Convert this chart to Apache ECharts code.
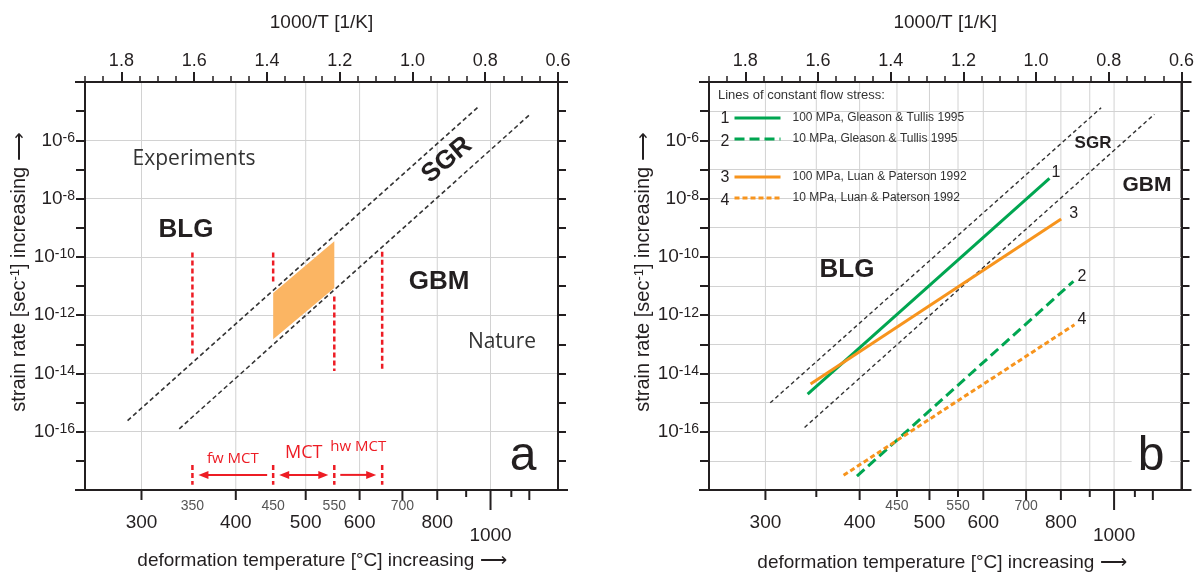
<!DOCTYPE html>
<html>
<head>
<meta charset="utf-8">
<title>Strain rate vs deformation temperature</title>
<script src="https://cdn.jsdelivr.net/npm/echarts@6.0.0/dist/echarts.min.js"></script>
<style>
html,body{margin:0;padding:0;background:#ffffff;}
#chart{width:1197px;height:575px;}
</style>
</head>
<body>
<div id="chart"></div>
<script>
// ===================== data =====================
// top axis: 1000/T [1/K]
const invTTickLabels = [0.6, 0.8, 1.0, 1.2, 1.4, 1.6, 1.8];
// bottom axis: deformation temperature [°C]
const tempTicksA = [300, 400, 500, 600, 700, 800, 900, 1000, 1100, 1200];
const tempTicksB = [300, 350, 400, 450, 500, 550, 600, 700, 800, 900, 1000, 1100, 1200];
const tempLabelsLarge = [300, 400, 500, 600, 800, 1000];
const tempLabelsSmallA = [350, 450, 550, 700];
const tempLabelsSmallB = [450, 550, 700];
const tempGridA = [300, 400, 500, 600, 800, 1000];
const tempGridB = [300, 350, 400, 450, 500, 550, 600, 700, 800, 900, 1000];
// y axis: strain rate [1/s], labelled decades (exponents)
const strainLabelExponents = [-6, -8, -10, -12, -14, -16];

// ---- panel a ----  points are [1000/T, strain rate]
const sgrUpperA = [[1.783, 2.4e-16], [0.8165, 1.5e-5]];
const sgrLowerA = [[1.641, 1.26e-16], [0.674, 8.3e-6]];
const zoneTemps = [450, 550];
const zoneTop = [5.8e-12, 3.4e-10];
const zoneBottom = [1.5e-13, 8.5e-12];
const redLineTemps = [350, 450, 550, 650];
const redLineTop = [1.4e-10, 1.4e-10, 4.4e-12, 1.5e-10];
const redLineBottom = [4.4e-14, 1.3e-11, 1.2e-14, 1.2e-14];
const mctTemps = [350, 450, 550, 650];
const mctLabels = ['fw MCT', 'MCT', 'hw MCT'];
const mctArrowRate = 3.3e-18;
const mctMarkTop = 7.2e-18;
const mctMarkBottom = 1.5e-18;

// ---- panel b ----
const sgrUpperB = [[1.7316, 9.8e-16], [0.8212, 1.3e-5]];
const sgrLowerB = [[1.6371, 1.4e-16], [0.6747, 7.8e-6]];
const gt100 = [[1.6286, 1.95e-15], [0.9632, 4.9e-8]];
const gt10  = [[1.4929, 3.0e-18], [0.8973, 1.45e-11]];
const lp100 = [[1.6206, 4.3e-15], [0.931, 2.0e-9]];
const lp10  = [[1.5297, 3.2e-18], [0.8945, 4.7e-13]];
const flowNames = ['100 MPa, Gleason & Tullis 1995', '10 MPa, Gleason & Tullis 1995',
                   '100 MPa, Luan & Paterson 1992', '10 MPa, Luan & Paterson 1992'];
const flowNumbers = ['1', '2', '3', '4'];

// ===================== styling / helpers =====================
const FONT = '"Liberation Sans", Arial, Helvetica, sans-serif';
const HUM = '"Open Sans", "Noto Sans", sans-serif';
const INK = '#231f20';
const GRID = '#d2d2d2';
const RED = '#ed1c24';
const GREEN = '#00a651';
const ORANGE = '#f7941d';
const FILL = '#fbb563';
const K0 = 273.15;
const X_MIN = 0.6, X_MAX = 1.9;
const Y_MIN = -18, Y_MAX = -4;
const invT = t => 1000 / (t + K0);
const lg = v => Math.log10(v);
const toPts = arr => arr.map(p => [p[0], lg(p[1])]);

function textStyle(text, size, opt) {
  opt = opt || {};
  const al = opt.align || 'center';
  return {
    text: text, fill: opt.fill || INK, fontFamily: opt.family || FONT, fontSize: size,
    fontWeight: opt.weight || 'normal', align: al, textAlign: al,
    verticalAlign: 'middle', textVerticalAlign: 'middle',
    backgroundColor: opt.bg, padding: opt.pad
  };
}
function gtext(x, y, text, size, opt) {
  opt = opt || {};
  return { type: 'text', x: x, y: y, rotation: opt.rot || 0, z: 100, silent: true, style: textStyle(text, size, opt) };
}

function xAxesFor(g) {
  return [
    { gridIndex: g, type: 'value', position: 'top', min: X_MIN, max: X_MAX, inverse: true, interval: 0.2,
      name: '1000/T [1/K]', nameLocation: 'middle', nameGap: 50,
      nameTextStyle: { fontFamily: FONT, fontSize: 19, color: INK },
      axisLine: { show: true, onZero: false, lineStyle: { color: INK, width: 2 } },
      axisTick: { show: true, length: 10, customValues: invTTickLabels, lineStyle: { color: INK, width: 2 } },
      axisLabel: { show: true, margin: 12, customValues: invTTickLabels,
        formatter: v => (Math.abs(v - 1.9) < 1e-6 ? '' : v.toFixed(1)),
        fontFamily: FONT, fontSize: 18, color: INK },
      splitLine: { show: false } },
    { gridIndex: g, type: 'value', position: 'top', min: X_MIN, max: X_MAX, inverse: true, interval: 0.05,
      axisLine: { show: false, onZero: false },
      axisTick: { show: true, length: 6, lineStyle: { color: INK, width: 1.5 } },
      axisLabel: { show: false }, splitLine: { show: false } }
  ];
}
function yAxesFor(g) {
  const base = { gridIndex: g, type: 'value', min: Y_MIN, max: Y_MAX, interval: 1 };
  const axes = [
    Object.assign({}, base, {
      position: 'left',
      name: '{n|strain rate [sec}{s|-1}{n|] increasing ⟶}', nameLocation: 'middle', nameGap: 49,
      nameTextStyle: { padding: [0, 0, 0, 28],
        rich: { n: { fontFamily: FONT, fontSize: 20, color: INK, lineHeight: 22 },
                s: { fontFamily: FONT, fontSize: 13, color: INK, lineHeight: 13, verticalAlign: 'top' } } },
      axisLine: { show: true, onZero: false, lineStyle: { color: INK, width: 2 } },
      axisTick: { show: true, length: 9, lineStyle: { color: INK, width: 2 } },
      axisLabel: { margin: 10,
        formatter: v => (strainLabelExponents.indexOf(Math.round(v)) >= 0 ? '{b|10}{s|' + Math.round(v) + '}' : ''),
        rich: { b: { fontFamily: FONT, fontSize: 19, color: INK, lineHeight: 19, verticalAlign: 'middle' },
                s: { fontFamily: FONT, fontSize: 14, color: INK, lineHeight: 14, verticalAlign: 'top' } } },
      splitLine: { show: g === 1, lineStyle: { color: GRID, width: 1 } }
    }),
    Object.assign({}, base, {
      position: 'right',
      axisLine: { show: true, onZero: false, lineStyle: { color: INK, width: 2 } },
      axisTick: { show: true, length: 8, lineStyle: { color: INK, width: 2 } },
      axisLabel: { show: false }, splitLine: { show: false }
    })
  ];
  if (g === 0) {
    axes.push({ gridIndex: 0, type: 'value', min: Y_MIN, max: Y_MAX, interval: 2, position: 'left',
      axisLine: { show: false }, axisTick: { show: false }, axisLabel: { show: false },
      splitLine: { show: true, lineStyle: { color: GRID, width: 1 } } });
  }
  return axes;
}
const X_IDX = [0, 2];
const Y_IDX = [0, 3];

function gridLineSeries(g, temps) {
  return {
    type: 'custom', name: 'grid' + g, xAxisIndex: X_IDX[g], yAxisIndex: Y_IDX[g], z: 1, silent: true,
    data: temps.map(t => [invT(t), Y_MIN]), encode: { x: 0, y: 1 },
    renderItem: function (params, api) {
      const u = api.value(0);
      const a = api.coord([u, Y_MIN]), b = api.coord([u, Y_MAX]);
      return { type: 'line', shape: { x1: a[0], y1: a[1], x2: b[0], y2: b[1] }, style: { stroke: GRID, lineWidth: 1 } };
    }
  };
}
function bottomAxisSeries(g, ticks, smallLabels) {
  const shortTicks = [350, 450, 550, 900, 1100];
  return {
    type: 'custom', name: 'tempAxis' + g, xAxisIndex: X_IDX[g], yAxisIndex: Y_IDX[g], z: 20, silent: true, clip: false,
    data: ticks.map(t => [invT(t), Y_MIN, t]), encode: { x: 0, y: 1 },
    renderItem: function (params, api) {
      const t = api.value(2);
      const p = api.coord([api.value(0), Y_MIN]);
      const len = t === 1000 ? 20 : (shortTicks.indexOf(t) >= 0 ? 7 : 10);
      const ch = [{ type: 'line', shape: { x1: p[0], y1: p[1], x2: p[0], y2: p[1] + len }, style: { stroke: INK, lineWidth: 2 } }];
      if (params.dataIndex === 0) {
        // axis lines slightly overhanging the frame, as in the figure
        const bl = api.coord([X_MAX, Y_MIN]), br = api.coord([X_MIN, Y_MIN]);
        const tl = api.coord([X_MAX, Y_MAX]), tr = api.coord([X_MIN, Y_MAX]);
        ch.push({ type: 'line', shape: { x1: bl[0] - 10, y1: bl[1], x2: br[0] + 10, y2: br[1] }, style: { stroke: INK, lineWidth: 2 } });
        ch.push({ type: 'line', shape: { x1: tl[0] - 10, y1: tl[1], x2: tr[0] + 10, y2: tr[1] }, style: { stroke: INK, lineWidth: 2 } });
      }
      return { type: 'group', children: ch };
    }
  };
}
function bottomLabelSeries(g, smallLabels) {
  const labels = smallLabels.concat(tempLabelsLarge);
  return {
    type: 'custom', name: 'tempLabels' + g, xAxisIndex: X_IDX[g], yAxisIndex: Y_IDX[g], z: 20, silent: true, clip: false,
    data: labels.map(t => [invT(t), Y_MIN, t]), encode: { x: 0, y: 1 },
    renderItem: function (params, api) {
      const t = api.value(2);
      const p = api.coord([api.value(0), Y_MIN]);
      const small = params.dataIndex < smallLabels.length;
      if (small) return { type: 'text', x: p[0], y: p[1] + 16, style: textStyle(String(t), 14, { fill: '#555' }) };
      return { type: 'text', x: p[0], y: p[1] + (t === 1000 ? 46 : 33), style: textStyle(String(t), 19) };
    }
  };
}
function lineSeries(name, pts, xi, yi, color, width, dash, z, endLbl) {
  const s = {
    type: 'line', name: name, xAxisIndex: xi, yAxisIndex: yi, data: toPts(pts), symbol: 'none',
    silent: true, z: z, animation: false,
    lineStyle: { color: color, width: width, type: dash || 'solid', cap: 'butt' },
    itemStyle: { color: color }
  };
  if (endLbl) {
    s.endLabel = { show: true, formatter: endLbl.text, color: INK, fontFamily: FONT, fontSize: 16,
      distance: 0, offset: endLbl.offset };
  }
  return s;
}
function vSegSeries(name, temps, tops, bottoms, z) {
  return {
    type: 'custom', name: name, xAxisIndex: 0, yAxisIndex: 0, z: z, silent: true,
    data: temps.map((t, i) => [invT(t), lg(tops[i]), lg(bottoms[i])]),
    encode: { x: 0, y: [1, 2] },
    renderItem: function (params, api) {
      const u = api.value(0);
      const a = api.coord([u, api.value(1)]), b = api.coord([u, api.value(2)]);
      return { type: 'line', shape: { x1: a[0], y1: a[1], x2: b[0], y2: b[1] },
        style: { stroke: RED, lineWidth: 2.5, lineDash: [5, 3] } };
    }
  };
}

const series = [
  gridLineSeries(0, tempGridA),
  gridLineSeries(1, tempGridB),
  bottomAxisSeries(0, tempTicksA),
  bottomAxisSeries(1, tempTicksB),
  bottomLabelSeries(0, tempLabelsSmallA),
  bottomLabelSeries(1, tempLabelsSmallB),
  // orange zone (panel a)
  {
    type: 'custom', name: 'zone', xAxisIndex: 0, yAxisIndex: 0, z: 3, silent: true,
    data: [[invT(zoneTemps[0]), lg(zoneTop[0])]], encode: { x: 0, y: 1 },
    renderItem: function (params, api) {
      const pts = [
        api.coord([invT(zoneTemps[0]), lg(zoneTop[0])]),
        api.coord([invT(zoneTemps[1]), lg(zoneTop[1])]),
        api.coord([invT(zoneTemps[1]), lg(zoneBottom[1])]),
        api.coord([invT(zoneTemps[0]), lg(zoneBottom[0])])
      ];
      return { type: 'polygon', shape: { points: pts }, style: { fill: FILL } };
    }
  },
  vSegSeries('redLines', redLineTemps, redLineTop, redLineBottom, 4),
  vSegSeries('mctMarks', mctTemps, mctTemps.map(() => mctMarkTop), mctTemps.map(() => mctMarkBottom), 4),
  // MCT arrows + labels (panel a)
  {
    type: 'custom', name: 'mctArrows', xAxisIndex: 0, yAxisIndex: 0, z: 4, silent: true,
    data: mctLabels.map((n, i) => [invT(mctTemps[i]), invT(mctTemps[i + 1]), lg(mctArrowRate)]),
    encode: { x: [0, 1], y: 2 },
    renderItem: function (params, api) {
      const i = params.dataIndex;
      const a = api.coord([api.value(0), api.value(2)]);
      const b = api.coord([api.value(1), api.value(2)]);
      const xl = Math.min(a[0], b[0]) + 6, xr = Math.max(a[0], b[0]) - 6, y = a[1];
      const heads = [['l'], ['l', 'r'], ['r']][i];
      const ch = [{ type: 'line', shape: { x1: xl + (heads.indexOf('l') >= 0 ? 6 : 0), y1: y, x2: xr - (heads.indexOf('r') >= 0 ? 6 : 0), y2: y },
        style: { stroke: RED, lineWidth: 2 } }];
      if (heads.indexOf('l') >= 0) ch.push({ type: 'polygon', shape: { points: [[xl, y], [xl + 10, y - 4], [xl + 10, y + 4]] }, style: { fill: RED } });
      if (heads.indexOf('r') >= 0) ch.push({ type: 'polygon', shape: { points: [[xr, y], [xr - 10, y - 4], [xr - 10, y + 4]] }, style: { fill: RED } });
      const dy = [16, 22, 28][i], fs = [15, 18, 15][i];
      ch.push({ type: 'text', x: (xl + xr) / 2, y: y - dy, style: textStyle(mctLabels[i], fs, { fill: RED, family: HUM }) });
      return { type: 'group', children: ch };
    }
  },
  // SGR boundaries
  lineSeries('sgrUpperA', sgrUpperA, 0, 0, '#333333', 1.6, [4.5, 3], 5),
  lineSeries('sgrLowerA', sgrLowerA, 0, 0, '#333333', 1.6, [4.5, 3], 5),
  lineSeries('sgrUpperB', sgrUpperB, 2, 3, '#333333', 1.4, [4, 3], 5),
  lineSeries('sgrLowerB', sgrLowerB, 2, 3, '#333333', 1.4, [4, 3], 5),
  // constant flow stress lines (panel b)
  lineSeries(flowNames[0], gt100, 2, 3, GREEN, 3, 'solid', 6, { text: flowNumbers[0], offset: [11, -6] }),
  lineSeries(flowNames[1], gt10, 2, 3, GREEN, 3, [10, 5], 6, { text: flowNumbers[1], offset: [13, -5] }),
  lineSeries(flowNames[2], lp100, 2, 3, ORANGE, 3, 'solid', 6, { text: flowNumbers[2], offset: [17, -5] }),
  lineSeries(flowNames[3], lp10, 2, 3, ORANGE, 3, [5, 3], 6, { text: flowNumbers[3], offset: [12, -5] })
];

const legendBase = {
  orient: 'vertical', left: 733, itemWidth: 46, itemHeight: 14, itemGap: 9, padding: 0,
  selectedMode: false,
  itemStyle: { opacity: 0 }, lineStyle: { width: 3 },
  textStyle: { fontFamily: FONT, fontSize: 12, color: '#333', padding: [0, 0, 0, 7] }
};

const graphics = [
  // panel a annotations
  gtext(194, 159, 'Experiments', 21, { family: HUM, fill: '#333' }),
  gtext(186, 230, 'BLG', 26, { weight: 'bold' }),
  gtext(447, 160, 'SGR', 26, { weight: 'bold', rot: 0.70 }),
  gtext(439, 282, 'GBM', 26, { weight: 'bold' }),
  gtext(502, 342, 'Nature', 21, { family: HUM, fill: '#333' }),
  gtext(523, 457, 'a', 48, { bg: '#fff' }),
  gtext(322, 561, 'deformation temperature [°C] increasing ⟶', 19),
  // panel b annotations
  gtext(718, 95, 'Lines of constant flow stress:', 13, { align: 'left', fill: '#333' }),
  gtext(725, 119, flowNumbers[0], 16),
  gtext(725, 142, flowNumbers[1], 16),
  gtext(725, 178, flowNumbers[2], 16),
  gtext(725, 201, flowNumbers[3], 16),
  gtext(847, 270, 'BLG', 26, { weight: 'bold' }),
  gtext(1093, 143, 'SGR', 17, { weight: 'bold' }),
  gtext(1147, 185, 'GBM', 21, { weight: 'bold' }),
  gtext(1151, 457, 'b', 48, { bg: '#fff', pad: [0, 6, 0, 6] }),
  gtext(942, 563, 'deformation temperature [°C] increasing ⟶', 19)
];

const option = {
  animation: false,
  backgroundColor: '#ffffff',
  grid: [
    { left: 85, top: 82, width: 473, height: 408, show: true, borderColor: INK, borderWidth: 2, backgroundColor: 'rgba(0,0,0,0)' },
    { left: 709, top: 82, width: 473, height: 408, show: true, borderColor: INK, borderWidth: 2, backgroundColor: 'rgba(0,0,0,0)' }
  ],
  xAxis: xAxesFor(0).concat(xAxesFor(1)),
  yAxis: yAxesFor(0).concat(yAxesFor(1)),
  legend: [
    Object.assign({}, legendBase, { top: 112, data: flowNames.slice(0, 2) }),
    Object.assign({}, legendBase, { top: 171, data: flowNames.slice(2, 4) })
  ],
  graphic: { elements: graphics },
  series: series
};

const chart = echarts.init(document.getElementById('chart'), null, { renderer: 'canvas' });
chart.setOption(option);
</script>
</body>
</html>
